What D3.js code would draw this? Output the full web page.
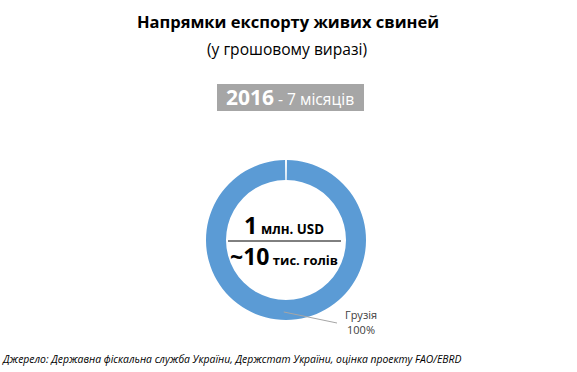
<!DOCTYPE html>
<html>
<head>
<meta charset="utf-8">
<script src="https://cdn.jsdelivr.net/npm/d3@7"></script>
<style>
  body { margin: 0; background: #fff; }
  svg { font-family: "Open Sans", sans-serif; }
</style>
</head>
<body>
<div id="chart"></div>
<script>
// data
var categories = ["Грузія"];
var shares = [100];
var totalValue = "1";
var totalUnit = "млн. USD";
var totalHeads = "~10";
var headsUnit = "тис. голів";

var width = 577, height = 372;

var svg = d3.select("#chart").append("svg")
  .attr("width", width)
  .attr("height", height);

// titles
svg.append("text")
  .attr("x", 288).attr("y", 28)
  .attr("text-anchor", "middle")
  .style("font-size", "16.5px").style("font-weight", "bold")
  .attr("fill", "#000")
  .text("Напрямки експорту живих свиней");

svg.append("text")
  .attr("x", 287).attr("y", 55)
  .attr("text-anchor", "middle")
  .style("font-size", "15.6px")
  .attr("fill", "#000")
  .text("(у грошовому виразі)");

// period badge
svg.append("rect")
  .attr("x", 217).attr("y", 84)
  .attr("width", 147).attr("height", 27)
  .attr("fill", "#a6a6a6");

var badge = svg.append("text")
  .attr("x", 290).attr("y", 105)
  .attr("text-anchor", "middle")
  .attr("fill", "#fff");
badge.append("tspan").style("font-size", "21px").style("font-weight", "bold").text("2016");
badge.append("tspan").style("font-size", "15.6px").text(" - 7 місяців");

// donut
var cx = 286, cy = 240;
var outerR = 80, innerR = 60;

var pie = d3.pie()
  .sort(null)
  .startAngle(0.012)
  .endAngle(2 * Math.PI - 0.012);

var arc = d3.arc()
  .innerRadius(innerR)
  .outerRadius(outerR);

var g = svg.append("g")
  .attr("transform", "translate(" + cx + "," + cy + ")");

g.selectAll("path")
  .data(pie(shares))
  .enter().append("path")
  .attr("d", arc)
  .attr("fill", "#5b9bd5");

// leader line + label
var pArc = d3.arc().innerRadius(outerR - 8).outerRadius(outerR - 8);
var anchorPt = pArc.centroid({ startAngle: Math.PI * 1.01, endAngle: Math.PI * 1.01 });
g.append("polyline")
  .attr("points", [[anchorPt[0], anchorPt[1]], [51, 83]].map(function(p) { return p.join(","); }).join(" "))
  .attr("fill", "none")
  .attr("stroke", "#a6a6a6")
  .attr("stroke-width", 1);

var lbl = g.append("text")
  .attr("text-anchor", "middle")
  .attr("fill", "#404040")
  .style("font-size", "11px");
lbl.append("tspan").attr("x", 75).attr("y", 79).text(categories[0]);
lbl.append("tspan").attr("x", 75).attr("y", 94).text(d3.format(".0f")(shares[0]) + "%");

// center totals
var t1 = svg.append("text")
  .attr("x", cx - 2).attr("y", 234)
  .attr("text-anchor", "middle")
  .attr("fill", "#000")
  .style("font-weight", "bold");
t1.append("tspan").style("font-size", "23.5px").text(totalValue);
t1.append("tspan").style("font-size", "13.3px").text(" " + totalUnit);

svg.append("line")
  .attr("x1", 228).attr("x2", 341)
  .attr("y1", 241).attr("y2", 241)
  .attr("stroke", "#000").attr("stroke-width", 1);

var t2 = svg.append("text")
  .attr("x", cx - 2).attr("y", 265)
  .attr("text-anchor", "middle")
  .attr("fill", "#000")
  .style("font-weight", "bold");
t2.append("tspan").style("font-size", "23px").text(totalHeads);
t2.append("tspan").style("font-size", "13px").text(" " + headsUnit);

// source note
svg.append("text")
  .attr("x", 3).attr("y", 363)
  .style("font-size", "10.4px").style("font-style", "italic")
  .attr("fill", "#000")
  .text("Джерело: Державна фіскальна служба України, Держстат України, оцінка проекту FAO/EBRD");
</script>
</body>
</html>
